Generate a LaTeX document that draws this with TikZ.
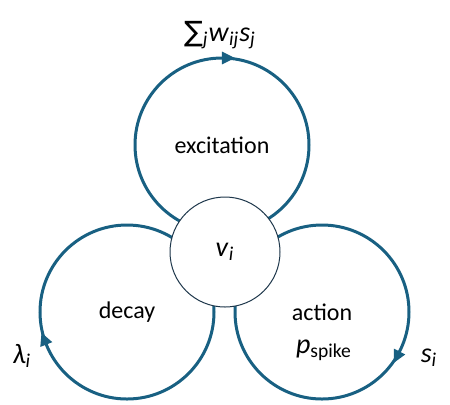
\documentclass[tikz,border=0pt]{standalone}
\usepackage{fontspec}
\setmainfont{Carlito}
\newfontfamily\symfont{DejaVu Sans}
\usetikzlibrary{arrows.meta, decorations.markings}
\definecolor{loopblue}{RGB}{24,96,130}
\definecolor{coreline}{RGB}{30,55,75}
\tikzset{looptip/.tip={Triangle[length=6.5pt, width=6pt, reversed]}}

\newcommand{\mvar}[2]{\textit{#1}\textsubscript{\textit{#2}}}

\begin{document}
\begin{tikzpicture}[
  x=0.5pt, y=-0.5pt,
  font=\fontsize{12}{14}\selectfont,
  loop/.style={circle, draw=loopblue, line width=1.5pt, minimum size=87pt, inner sep=0pt},
  core/.style={circle, draw=coreline, line width=0.5pt, fill=white, minimum size=55pt, inner sep=0pt},
  tip/.style={postaction={decorate, decoration={markings,
      mark=at position #1 with {\arrow[loopblue]{looptip}}}}},
  lab/.style={font=\fontsize{14}{16}\selectfont}
]
\useasboundingbox (0,0) rectangle (450,404);
\node[loop, tip=0.25] (exc) at (222,145) {excitation};
\node[loop, tip=0.561] (dec) at (127,312) {decay};
\node[loop, tip=0.925] (act) at (322,312) {action};
\node[lab] (pspk) at (324,350) {\textit{p}\textsubscript{spike}};
\node[core, lab] (v) at (225,252) {\mvar{v}{i}};
\node[lab] (sum) at (220,35) {{\symfont ∑}\textsubscript{\textit{j}}\mvar{w}{ij}\mvar{s}{j}};
\node[lab] (lam) at (22,356) {\mvar{λ}{i}};
\node[lab] (spk) at (429,358) {\mvar{s}{i}};
\end{tikzpicture}
\end{document}
